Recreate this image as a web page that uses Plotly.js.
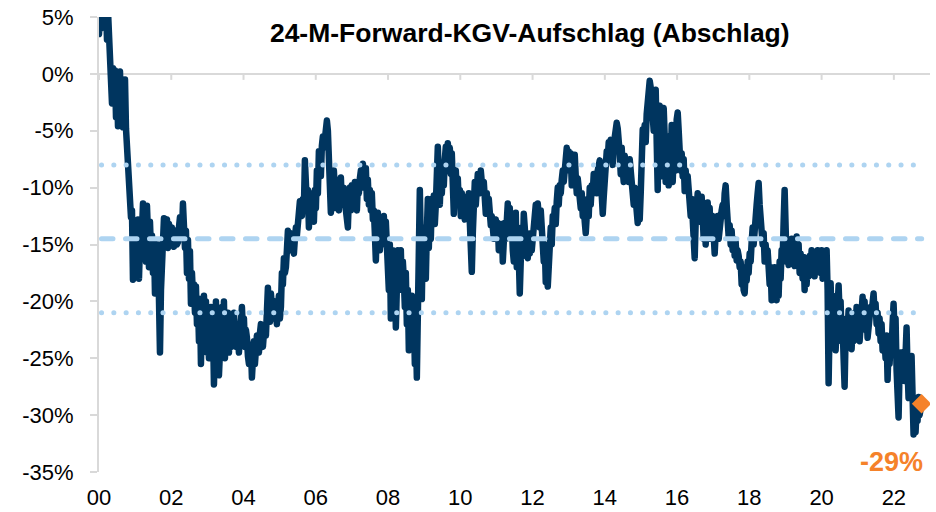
<!DOCTYPE html>
<html>
<head>
<meta charset="utf-8">
<script src="https://cdn.plot.ly/plotly-3.0.1.min.js"></script>
<style>html,body{margin:0;padding:0;background:#fff}</style>
</head>
<body>
<div id="chart" style="width:936px;height:512px"></div>
<script>
// ---- data -------------------------------------------------------------
const chartTitle = '24-M-Forward-KGV-Aufschlag (Abschlag)';
const startYear = 2000;          // first observation
const obsPerYear = 36.15;        // observations per year (~every 10 days)

// 24M forward P/E premium (discount), in %
const premium = [
3.5,6,4,7,5,6.5,8,6,3,5.5,2.2,3,-0.2,-2.6,0.5,-1.5,0.3,-3.8,-0.5,-4.6,
-1,0.2,-4.5,-1.5,-4.7,-0.8,-0.5,-4.8,-6.7,-7.8,-9.5,-10.8,-12.6,-12,-18.1,-14,-16.8,-13.5,-17.5,-12.8,
-18,-15,-16.2,-12.5,-11.4,-15.5,-12.2,-16.5,-11.6,-14,-17,-13,-15.5,-14.2,-17.5,-14.6,-19.3,-15.5,-17.5,-15,
-18.5,-24.5,-19,-16,-14.5,-12.7,-15,-13.5,-12.8,-15.3,-13.2,-14.8,-13.8,-13.5,-14.5,-15.2,-14.2,-13.8,-15,-14.8,
-13.5,-12.6,-13.2,-14,-11.4,-13.5,-15.3,-13.8,-17.5,-14.6,-18,-15.6,-20.2,-17.5,-19.5,-18.5,-21,-18.7,-22,-20,
-23.5,-19.8,-25.5,-21,-23,-19.5,-22.5,-20,-24.5,-21,-25,-22,-20.5,-24,-22,-27.3,-23,-20,-24.5,-21.5,
-26.5,-22.5,-24,-20.5,-23,-20,-25,-21.5,-23.5,-21,-24.5,-22,-24,-23,-21.8,-21,-22.5,-24,-23,-22.5,
-24.5,-23.5,-21.5,-20.5,-22.5,-21.5,-24,-22.5,-23.2,-24.8,-25.5,-23.8,-24,-26.7,-24.5,-23.5,-25.5,-24.2,-23,-24,
-24.5,-22.8,-22,-23.5,-24,-22.8,-22.5,-23,-21,-18.8,-20.5,-21.8,-19.3,-20,-21.5,-20.8,-20,-21.2,-22,-20.5,
-19.5,-21.5,-20.5,-17.5,-18.5,-16.2,-17.5,-17,-15.5,-13.8,-14.5,-15.5,-14,-14.5,-15.2,-15.8,-14.5,-13.5,-14.2,-12.8,
-12,-11.2,-12,-12.5,-11,-11.8,-7.6,-9.5,-11.5,-10.2,-13.5,-11.2,-12.5,-10.5,-11.8,-13,-10.2,-11.8,-8.5,-10.5,
-6.8,-7.5,-9,-6.3,-5.5,-6.5,-4.8,-5.2,-4.1,-5,-7.8,-10.5,-12.2,-9.5,-11.8,-8.5,-10,-11.8,-9.3,-10.8,
-12,-10.2,-9.1,-11.5,-10.8,-10,-11.2,-11.8,-12.5,-13.5,-11,-10,-12,-9.8,-11.2,-10,-9.5,-11.5,-12,-9.8,
-10.5,-9.2,-8.5,-10,-7.9,-8.6,-9.8,-8.3,-11,-9.3,-11.5,-10.2,-12,-10.5,-12.8,-12,-14,-16.4,-13.5,-12.2,
-14,-15.5,-14,-12.8,-13.5,-12.5,-15,-13,-16,-14.6,-19,-15,-21.5,-17,-15.5,-20,-17,-22.3,-18.5,-15.5,
-18,-17,-15.5,-19,-16.5,-18,-20.5,-17.5,-22,-19,-24.3,-21,-23.5,-19.5,-24,-21,-25.5,-22,-26.7,-20,
-13,-10.2,-15,-19.8,-14.5,-17.5,-13.5,-18,-14,-11,-15.3,-12,-14.5,-11,-12.5,-10.7,-13.2,-11.5,-8.5,-6.4,
-9,-11.5,-9,-10.5,-8.5,-9.8,-7.5,-6.4,-8.5,-6.1,-7,-6.5,-8.8,-7,-9.5,-12.3,-9.5,-8.5,-10.5,-9.2,
-11.5,-10.2,-12.5,-10.5,-11.8,-11,-12.8,-10.8,-11.7,-12.5,-10.5,-13,-15,-17.4,-14,-11.5,-9.5,-11.5,-9.5,-8.8,
-9.5,-10.5,-8.5,-9.5,-10.5,-9.5,-11,-12.3,-10.5,-12,-11,-12.6,-13.3,-12.5,-13.5,-14.5,-13.2,-12.8,-14.5,-13.1,
-15.5,-13.5,-14.8,-13.2,-16.5,-14,-13.1,-14.5,-12.8,-11.4,-13,-11.8,-14.5,-13,-15.5,-16.5,-14,-12.2,-17,-14.5,
-16,-19.3,-16.5,-13.5,-16,-12.3,-13.5,-15,-14,-16.2,-14.5,-15.8,-14,-15.5,-14.8,-13.5,-12.5,-11.5,-12.8,-11.4,
-12.5,-13.5,-12,-14.5,-15.5,-16.5,-15,-18.3,-16.5,-18.7,-17,-15.5,-13.5,-15,-12.5,-13,-11.8,-13.2,-11.2,-10,
-11.5,-9.8,-10.5,-9.3,-8.5,-9.5,-7.8,-8.2,-6.5,-7.5,-6.8,-8.5,-7,-9.8,-7.5,-9.5,-7.1,-9,-10.5,-9.2,
-11,-10,-11.8,-10.5,-12.5,-11.5,-13,-14,-12.5,-11,-12.5,-10,-11.5,-9.8,-10.5,-8.8,-10.2,-9.2,-10.5,-8.5,
-7.8,-7.6,-9,-10.5,-12.3,-10.8,-9,-7.5,-6.8,-7.5,-6,-6.5,-5.8,-7.2,-8,-6.2,-5,-4.5,-4.3,-4.8,
-5.5,-7,-8.8,-6.5,-8.5,-9.5,-7.2,-8.8,-9.2,-8,-9.5,-7.5,-9,-8.5,-10,-11.5,-10,-12.2,-11,-13.1,
-12,-12.8,-10.5,-8,-4.9,-5.5,-4.5,-6,-3.5,-2.5,-1.5,-0.6,-1.2,-3,-2.2,-5,-3,-1.4,-6,-10.2,
-4,-2.8,-5.5,-9,-3.5,-3,-5.5,-9.5,-7,-5.5,-9.8,-6.5,-8,-4.5,-9.5,-7,-5,-8.5,-4,-3.4,
-5,-7.5,-8.5,-7,-9,-7.5,-10.3,-8.5,-10,-9,-11.5,-10,-12.5,-11,-12.8,-14.5,-16.2,-13,-11.5,-10.5,
-12.5,-11,-13,-10.8,-12.5,-14.5,-11.5,-15,-13,-11.3,-13.5,-11.8,-14.5,-13,-12.5,-14.5,-15.8,-14,-13,-12.5,
-14.5,-12.8,-13.5,-12,-11.5,-12.5,-10.5,-9.8,-11.5,-13,-14.3,-13.3,-15,-13.8,-15.5,-14.5,-16,-14.8,-16.4,-15.5,
-16,-17,-16.5,-18.5,-17,-19,-19.3,-17.5,-18.2,-16.5,-17.5,-15.8,-16.5,-14.8,-13.5,-15,-13,-12.5,-11.5,-10.5,
-9.6,-11.5,-13.5,-12.5,-15,-14,-16.5,-15,-16.2,-15.5,-17,-18.5,-17,-19.9,-18,-19.5,-17,-18.5,-19.9,-17.5,
-19.5,-16.5,-18,-15.5,-16.5,-13,-10.2,-13.5,-16.5,-15,-16.8,-15.2,-16,-14.5,-16.2,-15,-16.9,-15.5,-14.3,-16,
-15,-17.5,-15.8,-16.5,-18,-16.1,-19,-17,-18.5,-16.5,-17.8,-16,-17.2,-15.5,-17.5,-16,-17.8,-15.8,-16.8,-15.5,
-17.2,-16,-17.5,-15.5,-18,-16.5,-17.8,-15.8,-15.5,-19,-27.2,-22,-18.4,-21.5,-19.5,-23,-20,-24.3,-21,-19.5,
-18.6,-21,-20,-23.5,-22,-25,-27.5,-23,-21.5,-22.5,-20.8,-23,-21.5,-24.2,-22,-23.5,-21,-22.8,-20.5,-22,
-21.2,-23.5,-21.5,-20.5,-19.6,-21,-20,-22.5,-21,-23.2,-21.5,-22,-20.5,-21,-20,-19.3,-21,-20.2,-22,-21,
-22.8,-21.5,-23.5,-22,-24.3,-23,-23.5,-25,-23,-26.9,-24,-25.5,-23.5,-24.5,-22,-20.2,-22.5,-21.5,-26,-28,
-30.2,-26,-24.5,-27,-25,-24.5,-27,-23.5,-22.3,-26,-28.5,-25,-27.5,-24.8,-29.5,-31.7,-30.5,-31.5,-29.5,-30.5,
-28.4,-30,-29.5,-29
];

// long-run average and +/- 1 standard deviation bands
const avgPremium = -14.5;
const upperBand = -8;
const lowerBand = -21;

// tick labels
const xTickYears = [2000,2002,2004,2006,2008,2010,2012,2014,2016,2018,2020,2022];
const xTickLabels = ['00','02','04','06','08','10','12','14','16','18','20','22'];
const yTickVals = [5,0,-5,-10,-15,-20,-25,-30,-35];
const yTickLabels = ['5%','0%','-5%','-10%','-15%','-20%','-25%','-30%','-35%'];

// ---- chart ------------------------------------------------------------
const dates = premium.map((v, i) => startYear + i / obsPerYear);
const lastX = dates[dates.length - 1];
const lastY = premium[premium.length - 1];

const NAVY = '#00355F';
const BAND = '#AED4F1';
const ORANGE = '#F5822A';
const GRID = '#D9D9D9';
const FONT = 'Liberation Sans, Arial, sans-serif';

const traces = [
  {
    type: 'scatter', mode: 'lines', x: dates, y: premium,
    line: {color: NAVY, width: 6.5},
    hoverinfo: 'skip', showlegend: false
  },
  {
    type: 'scatter', mode: 'markers', x: [lastX], y: [lastY],
    marker: {symbol: 'diamond', size: 15, color: ORANGE},
    hoverinfo: 'skip', showlegend: false
  }
];

const shapes = [];
// little tick marks hanging from the 0% line
xTickYears.forEach(t => shapes.push({
  type: 'line', xref: 'x', yref: 'y', ysizemode: 'pixel', yanchor: 0,
  x0: t, x1: t, y0: 0, y1: -6, layer: 'below',
  line: {color: GRID, width: 2}
}));
// reference bands
[[upperBand, 'dot'], [avgPremium, 'dash'], [lowerBand, 'dot']].forEach(([v, kind]) => shapes.push({
  type: 'line', xref: 'paper', yref: 'y', x0: 0.003, x1: 0.99, y0: v, y1: v, layer: 'above',
  name: kind,
  line: {color: BAND, width: 5, dash: kind === 'dot' ? '0.1px,12.2px' : '11.5px,12.5px'}
}));

const layout = {
  width: 936, height: 512,
  margin: {l: 99, r: 6, t: 17, b: 40, pad: 0},
  paper_bgcolor: '#fff', plot_bgcolor: '#fff',
  showlegend: false,
  font: {family: FONT, color: '#000'},
  title: {
    text: chartTitle,
    font: {family: FONT, size: 26.5, weight: 700, color: '#000'},
    xref: 'container', x: 0.566, xanchor: 'center',
    yref: 'container', y: 0.937, yanchor: 'middle'
  },
  xaxis: {
    range: [2000, 2023], tickmode: 'array', tickvals: xTickYears, ticktext: xTickLabels,
    showgrid: false, zeroline: false, showline: false, ticks: '',
    tickfont: {family: FONT, size: 22, color: '#000'},
    ticklabelstandoff: 10, fixedrange: true
  },
  yaxis: {
    range: [-35, 5], tickmode: 'array', tickvals: yTickVals, ticktext: yTickLabels,
    showgrid: false, zeroline: true, zerolinecolor: GRID, zerolinewidth: 2,
    showline: true, linecolor: GRID, linewidth: 2,
    ticks: 'outside', ticklen: 7, tickwidth: 2, tickcolor: GRID,
    tickfont: {family: FONT, size: 22, color: '#000'},
    ticklabelstandoff: 12, fixedrange: true
  },
  shapes: shapes,
  annotations: [{
    x: lastX, y: lastY, xref: 'x', yref: 'y',
    text: String(lastY).replace('\u2212', '-') + '%',
    showarrow: false, xanchor: 'right', yanchor: 'middle', xshift: 3, yshift: -58,
    font: {family: FONT, size: 27, weight: 700, color: ORANGE}
  }]
};

Plotly.newPlot('chart', traces, layout, {staticPlot: true, displayModeBar: false}).then(gd => {
  gd.querySelectorAll('.scatterlayer .js-line').forEach(p => {
    p.style.strokeLinejoin = 'round';
    p.style.strokeLinecap = 'round';
  });
  gd.querySelectorAll('.layer-above .shapelayer path').forEach(p => {
    p.style.strokeLinecap = 'round';
  });
});
</script>
</body>
</html>
